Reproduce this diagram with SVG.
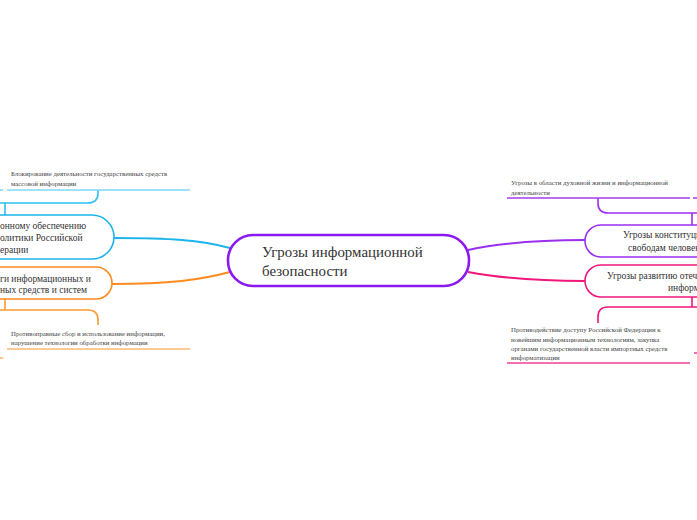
<svg xmlns="http://www.w3.org/2000/svg" width="697" height="520" viewBox="0 0 697 520" font-family="'Liberation Serif', 'Times New Roman', serif">
<style>
text{font-family:'Liberation Serif','Times New Roman',serif;fill:#333}
.main{font-size:14.9px}
.sub{font-size:9.5px}
.leaf{font-size:6.8px;fill:#444}
.n{fill:#fff;stroke-width:1.6}
.c{fill:none;stroke-width:2}
.u{fill:none;stroke-width:1.6}
</style>
<rect width="697" height="520" fill="#fff"/>
<g id="connectors">
<path class="c" stroke="#1bb5ec" d="M114,238 C170,238 200,240 230,248"/>
<path class="c" stroke="#ff8a1f" d="M112,284 C170,284 200,280 230,272"/>
<path class="c" stroke="#9b2ff0" d="M468,250 C500,243 540,240 585,240"/>
<path class="c" stroke="#f0167c" d="M468,272 C500,278 540,281 585,281"/>
<path class="u" stroke="#2ec0f0" d="M0,203 H88 Q98,203 98,193 V190 M5,203 V215"/>
<path class="u" stroke="#ff9a35" d="M0,310 H88 Q98,310 98,320 V325 M5,299 V310"/>
<path class="u" stroke="#9b2ff0" d="M598,198 V203 Q598,213 608,213 H697 M692,213 V225"/>
<path class="u" stroke="#f0167c" d="M598,323 V317 Q598,307 608,307 H697 M692,297 V307"/>
</g>
<g id="center">
<rect x="228" y="235" width="241" height="51" rx="25" fill="#fff" stroke="#8a18f0" stroke-width="2.6"/>
<text class="main" x="262" y="257">Угрозы информационной</text>
<text class="main" x="262" y="276">безопасности</text>
</g>
<g id="node-left-blue">
<rect class="n" x="-150" y="215" width="264" height="44" rx="22" stroke="#1bb5ec"/>
<text class="sub" x="0" y="229">онному обеспечению</text>
<text class="sub" x="0" y="241">олитики Российской</text>
<text class="sub" x="0" y="253">ерации</text>
</g>
<g id="node-left-orange">
<rect class="n" x="-150" y="267" width="262" height="32" rx="16" stroke="#ff8a1f"/>
<text class="sub" x="0" y="282">ги информационных и</text>
<text class="sub" x="0" y="293">ных средств и систем</text>
</g>
<g id="node-right-purple">
<rect class="n" x="585" y="225" width="200" height="32" rx="16" stroke="#9b2ff0"/>
<text class="sub" x="623" y="238">Угрозы конституци</text>
<text class="sub" x="628" y="251">свободам человек</text>
</g>
<g id="node-right-pink">
<rect class="n" x="585" y="265" width="200" height="32" rx="16" stroke="#f0167c"/>
<text class="sub" x="607" y="279">Угрозы развитию отече</text>
<text class="sub" x="668" y="291">информ</text>
</g>
<g id="leaf-blue">
<text class="leaf" x="11" y="176">Блокирование деятельности государственных средств</text>
<text class="leaf" x="11" y="185.5">массовой информации</text>
<path class="u" stroke="#7fd8f8" d="M7,190 H190"/>
<path class="u" stroke="#7fd8f8" d="M0,190 H3"/>
</g>
<g id="leaf-orange">
<text class="leaf" x="11" y="335.5">Противоправные сбор и использование информации,</text>
<text class="leaf" x="11" y="344.5">нарушение технологии обработки информации</text>
<path class="u" stroke="#ffb870" d="M7,349 H190"/>
<path class="u" stroke="#ffb870" d="M0,358 H3"/>
</g>
<g id="leaf-purple">
<text class="leaf" x="511" y="185">Угрозы в области духовной жизни и информационной</text>
<text class="leaf" x="511" y="194.5">деятельности</text>
<path class="u" stroke="#a53cf2" d="M507,198 H690 M693,198 H697"/>
</g>
<g id="leaf-pink">
<text class="leaf" x="511" y="332">Противодействие доступу Российской Федерации к</text>
<text class="leaf" x="511" y="341.5">новейшим информационным технологиям, закупка</text>
<text class="leaf" x="511" y="350.5">органами государственной власти импортных средств</text>
<text class="leaf" x="511" y="359.5">информатизации</text>
<path class="u" stroke="#f0409a" d="M507,363 H690 M694,353 H697"/>
</g>
</svg>
